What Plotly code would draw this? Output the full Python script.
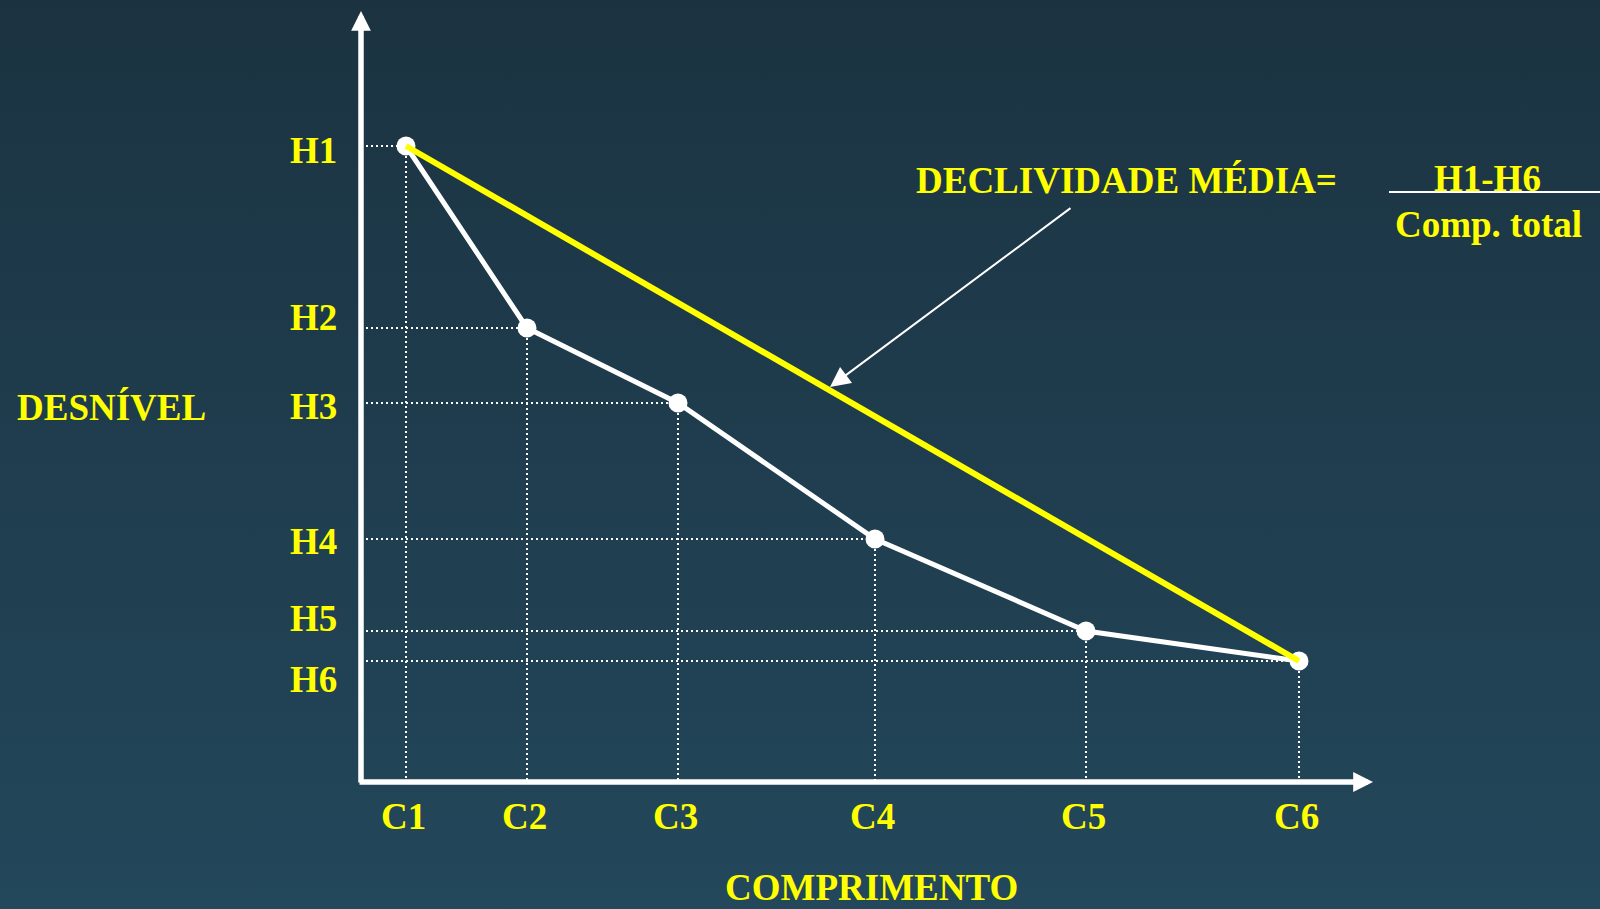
import base64
import plotly.graph_objects as go

# ---- data ----
comprimento_labels = ["C1", "C2", "C3", "C4", "C5", "C6"]
desnivel_labels = ["H1", "H2", "H3", "H4", "H5", "H6"]
comprimento = [0.45, 1.66, 3.17, 5.14, 7.25, 9.38]
desnivel = [6.36, 4.54, 3.79, 2.43, 1.51, 1.21]

title_x = "COMPRIMENTO"
title_y = "DESNÍVEL"
formula_label = "DECLIVIDADE MÉDIA="
formula_num = "H1-H6"
formula_den = "Comp. total"

# ---- style ----
YELLOW = "#ffff00"
WHITE = "#ffffff"
FONT = "Liberation Serif"
FS = 37
W, H = 1600, 909
ML, MB = 361, 127
XR = [0, (W - ML) / 100]
YR = [0, (H - MB) / 100]


def px(v):  # data x -> paper x
    return v / XR[1]


def py(v):  # data y -> paper y
    return v / YR[1]


fig = go.Figure()

# dotted guide lines
gx, gy = [], []
for x, y in zip(comprimento, desnivel):
    gx += [0, x, None, x, x, None]
    gy += [y, y, None, y, 0, None]
fig.add_trace(go.Scatter(x=gx, y=gy, mode="lines", hoverinfo="skip",
                         line=dict(color=WHITE, width=2, dash="2px,3px")))

# real profile
fig.add_trace(go.Scatter(x=comprimento, y=desnivel, mode="lines+markers",
                         line=dict(color=WHITE, width=5),
                         marker=dict(color=WHITE, size=19)))

# average slope line
fig.add_trace(go.Scatter(x=[comprimento[0], comprimento[-1]],
                         y=[desnivel[0], desnivel[-1]], mode="lines",
                         line=dict(color=YELLOW, width=6)))

ann = []
tfont = dict(family=FONT, size=FS, color=YELLOW)
TXT = dict(showarrow=False, font=tfont, xanchor="center", yanchor="middle")

# axis arrows
ann.append(dict(x=0, y=7.71, ax=0, ay=-0.02, xref="x", yref="y", axref="x", ayref="y",
                text="", showarrow=True, arrowhead=2, arrowwidth=5.5, arrowsize=0.72,
                arrowcolor=WHITE))
ann.append(dict(x=10.12, y=0, ax=-0.03, ay=0, xref="x", yref="y", axref="x", ayref="y",
                text="", showarrow=True, arrowhead=2, arrowwidth=5.5, arrowsize=0.72,
                arrowcolor=WHITE))

# tick-like labels
h_shift = [-4, 11, -3, -2, 13, -18]
for lab, y, s in zip(desnivel_labels, desnivel, h_shift):
    ann.append(dict(x=px(-0.48), y=y, xref="paper", yref="y", text=f"<b>{lab}</b>",
                    yshift=s, **TXT))
for lab, x in zip(comprimento_labels, comprimento):
    ann.append(dict(x=x, y=py(-0.34), xref="x", yref="paper", text=f"<b>{lab}</b>",
                    xshift=-3, **TXT))

# axis titles
ann.append(dict(x=px(-2.50), y=3.75, xref="paper", yref="y", text=f"<b>{title_y}</b>", **TXT))
ann.append(dict(x=5.10, y=py(-1.05), xref="x", yref="paper", text=f"<b>{title_x}</b>", **TXT))

# formula
ann.append(dict(x=7.65, y=6.02, xref="x", yref="y", text=f"<b>{formula_label}</b>", **TXT))
ann.append(dict(x=11.26, y=6.04, xref="x", yref="y", text=f"<b>{formula_num}</b>", **TXT))
ann.append(dict(x=11.27, y=5.58, xref="x", yref="y", text=f"<b>{formula_den}</b>", **TXT))
# pointer arrow
ann.append(dict(x=4.69, y=3.95, ax=7.11, ay=5.75, xref="x", yref="y", axref="x", ayref="y",
                text="", showarrow=True, arrowhead=2, arrowwidth=2, arrowsize=2.0,
                arrowcolor=WHITE))

shapes = [dict(type="line", xref="x", yref="y", x0=10.28, x1=XR[1], y0=5.90, y1=5.90,
               line=dict(color=WHITE, width=2))]

svg = ('<svg xmlns="http://www.w3.org/2000/svg" width="1600" height="909">'
       '<defs><linearGradient id="g" x1="0" y1="0" x2="0" y2="1">'
       '<stop offset="0" stop-color="#1b3341"/><stop offset="1" stop-color="#23475b"/>'
       '</linearGradient></defs><rect width="1600" height="909" fill="url(#g)"/></svg>')
src = "data:image/svg+xml;base64," + base64.b64encode(svg.encode()).decode()

pw, ph = W - ML, H - MB
fig.update_layout(
    width=W, height=H, margin=dict(l=ML, r=0, t=0, b=MB, pad=0),
    paper_bgcolor="#1f3d4f", plot_bgcolor="rgba(0,0,0,0)",
    showlegend=False, annotations=ann, shapes=shapes,
    images=[dict(source=src, xref="paper", yref="paper", x=-ML / pw, y=1,
                 sizex=W / pw, sizey=H / ph, sizing="stretch", layer="below",
                 xanchor="left", yanchor="top")],
    xaxis=dict(range=XR, visible=False, fixedrange=True),
    yaxis=dict(range=YR, visible=False, fixedrange=True),
)

fig.write_html("out.html", config={"displayModeBar": False, "staticPlot": True},
               post_script="document.body.style.margin='0';")
